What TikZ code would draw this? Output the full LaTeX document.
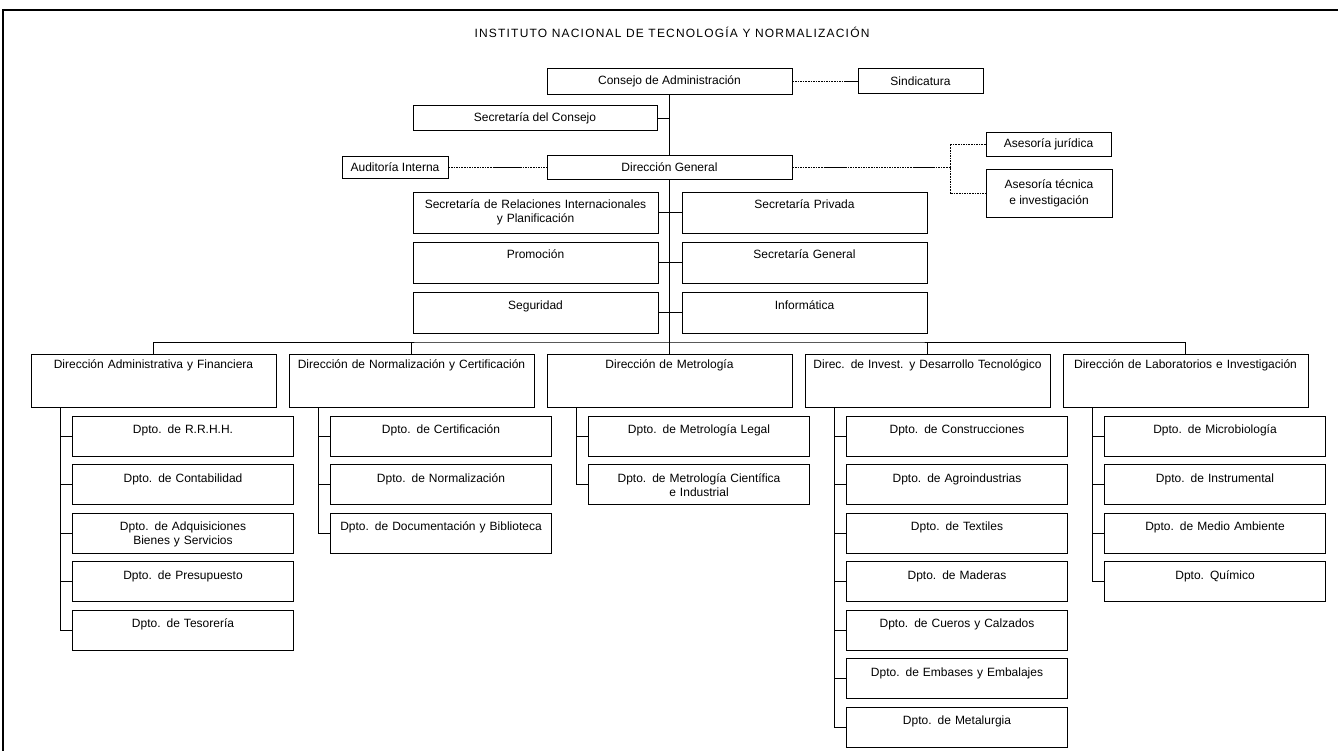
\documentclass[tikz,border=0pt]{standalone}
\usepackage{fontspec}
\setmainfont{Liberation Sans}
\begin{document}
\begin{tikzpicture}[x=1pt,y=-1pt,
    font=\fontsize{12}{14}\selectfont,
    line width=0.9pt,
    box/.style={draw,inner sep=2pt,minimum height=#1},
    box/.default=25pt,
    unit/.style={draw,text width=241pt,align=center,inner xsep=2pt,inner ysep=4pt,text height=10pt,text depth=35pt},
    staff/.style={draw,text width=241pt,align=center,inner xsep=2pt,inner ysep=4pt,text height=13pt,text depth=20pt},
    dept/.style={draw,text width=215pt,align=center,inner xsep=3pt,inner ysep=4pt,text height=13.5pt,text depth=18.5pt},
    dots/.style={dash pattern=on 1.6pt off 1pt}]
  \useasboundingbox (0,0) rectangle (1338,751);
  \draw[line width=1.6pt] (3,751) -- (3,10) -- (1338,10);
  \node (title) at (672,32) {\addfontfeature{LetterSpace=10}INSTITUTO NACIONAL DE TECNOLOGÍA Y NORMALIZACIÓN};

  \node[box=26pt,minimum width=245pt] (cons) at (669.5,81) {Consejo de Administración};
  \node[box=25pt,minimum width=125pt] (sind) at (920.5,81) {Sindicatura};
  \node[box=25pt,minimum width=244pt] (secc) at (535,118) {Secretaría del Consejo};
  \node[box=22pt,minimum width=106pt] (audi) at (395,167) {Auditoría Interna};
  \node[box=24pt,minimum width=245pt] (dg) at (669.5,167) {Dirección General};
  \node[box=24pt,minimum width=125pt] (asj) at (1048.5,144) {Asesoría jurídica};
  \node[box=48pt,minimum width=126pt,align=center] (ast) at (1049,193) {Asesoría técnica\\[2pt]e investigación};

  \coordinate (bus) at (669.5,342);
  \coordinate (s1) at (845,81);
  \draw[dots] (cons.east) -- (s1);
  \draw (s1) -- (sind.west);
  \draw (cons.south) -- (dg.north);
  \draw (dg.south) -- (bus);
  \draw (secc.east) -- (secc.east -| cons.south);
  \coordinate (a1) at (493,167);
  \coordinate (a2) at (520,167);
  \draw[dots] (audi.east) -- (a1);
  \draw (a1) -- (a2);
  \draw[dots] (a2) -- (dg.west);
  \coordinate (r1) at (825,167);
  \coordinate (r2) at (845,167);
  \coordinate (r3) at (913,167);
  \coordinate (r4) at (933,167);
  \coordinate (r5) at (950,167);
  \draw[dots] (dg.east) -- (r1);
  \draw (r1) -- (r2);
  \draw[dots] (r2) -- (r3);
  \draw (r3) -- (r4);
  \draw[dots] (r4) -- (r5);
  \draw[dots] (asj.west) -| (r5) |- (ast.west);

  \node[staff] (sri) at (535.5,212.5) {Secretaría de Relaciones Internacionales\\y Planificación};
  \node[staff] (spr) at (804.5,212.5) {Secretaría Privada};
  \node[staff] (pro) at (535.5,262.5) {Promoción};
  \node[staff] (sge) at (804.5,262.5) {Secretaría General};
  \node[staff] (seg) at (535.5,312.5) {Seguridad};
  \node[staff] (inf) at (804.5,312.5) {Informática};
  \draw (sri) -- (spr);
  \draw (pro) -- (sge);
  \draw (seg) -- (inf);

  \node[unit] (dadm) at (153.5,380.5) {Dirección Administrativa y Financiera};
  \node[unit] (dnor) at (411.5,380.5) {Dirección de Normalización y Certificación};
  \node[unit] (dmet) at (669.5,380.5) {Dirección de Metrología};
  \node[unit] (dinv) at (927.5,380.5) {Direc. de Invest. y Desarrollo Tecnológico};
  \node[unit] (dlab) at (1185.5,380.5) {Dirección de Laboratorios e Investigación};
  \draw (dadm.north) |- (bus) -| (dlab.north);
  \draw (dnor.north) -- (dnor.north |- bus);
  \draw (dmet.north) -- (bus);
  \draw (dinv.north) -- (dinv.north |- bus);

  \node[dept] (adm1) at (183,436) {Dpto. de R.R.H.H.};
  \node[dept] (adm2) at (183,484.5) {Dpto. de Contabilidad};
  \node[dept] (adm3) at (183,533) {Dpto. de Adquisiciones\\Bienes y Servicios};
  \node[dept] (adm4) at (183,581.5) {Dpto. de Presupuesto};
  \node[dept] (adm5) at (183,630) {Dpto. de Tesorería};
  \coordinate (kadm) at ([xshift=-93pt]dadm.south);
  \draw (kadm) |- (adm1.west);
  \draw (kadm) |- (adm2.west);
  \draw (kadm) |- (adm3.west);
  \draw (kadm) |- (adm4.west);
  \draw (kadm) |- (adm5.west);

  \node[dept] (nor1) at (441,436) {Dpto. de Certificación};
  \node[dept] (nor2) at (441,484.5) {Dpto. de Normalización};
  \node[dept] (nor3) at (441,533) {Dpto. de Documentación y Biblioteca};
  \coordinate (knor) at ([xshift=-93pt]dnor.south);
  \draw (knor) |- (nor1.west);
  \draw (knor) |- (nor2.west);
  \draw (knor) |- (nor3.west);

  \node[dept] (met1) at (699,436) {Dpto. de Metrología Legal};
  \node[dept] (met2) at (699,484.5) {Dpto. de Metrología Científica\\e Industrial};
  \coordinate (kmet) at ([xshift=-93pt]dmet.south);
  \draw (kmet) |- (met1.west);
  \draw (kmet) |- (met2.west);

  \node[dept] (inv1) at (957,436) {Dpto. de Construcciones};
  \node[dept] (inv2) at (957,484.5) {Dpto. de Agroindustrias};
  \node[dept] (inv3) at (957,533) {Dpto. de Textiles};
  \node[dept] (inv4) at (957,581.5) {Dpto. de Maderas};
  \node[dept] (inv5) at (957,630) {Dpto. de Cueros y Calzados};
  \node[dept] (inv6) at (957,678.5) {Dpto. de Embases y Embalajes};
  \node[dept] (inv7) at (957,727) {Dpto. de Metalurgia};
  \coordinate (kinv) at ([xshift=-93pt]dinv.south);
  \draw (kinv) |- (inv1.west);
  \draw (kinv) |- (inv2.west);
  \draw (kinv) |- (inv3.west);
  \draw (kinv) |- (inv4.west);
  \draw (kinv) |- (inv5.west);
  \draw (kinv) |- (inv6.west);
  \draw (kinv) |- (inv7.west);

  \node[dept] (lab1) at (1215,436) {Dpto. de Microbiología};
  \node[dept] (lab2) at (1215,484.5) {Dpto. de Instrumental};
  \node[dept] (lab3) at (1215,533) {Dpto. de Medio Ambiente};
  \node[dept] (lab4) at (1215,581.5) {Dpto. Químico};
  \coordinate (klab) at ([xshift=-93pt]dlab.south);
  \draw (klab) |- (lab1.west);
  \draw (klab) |- (lab2.west);
  \draw (klab) |- (lab3.west);
  \draw (klab) |- (lab4.west);
\end{tikzpicture}
\end{document}
